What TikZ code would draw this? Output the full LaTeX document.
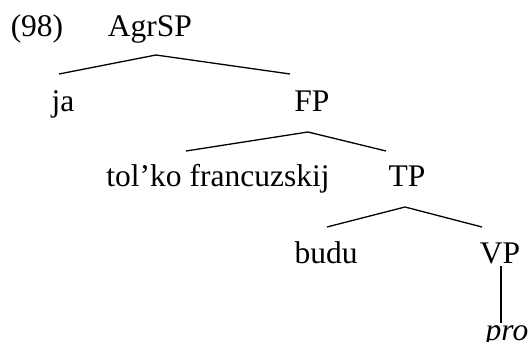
\documentclass[tikz,border=0pt]{standalone}
\usepackage{fontspec}
\setmainfont{Liberation Serif}
\begin{document}
\begin{tikzpicture}[x=1pt,y=-1pt,
  lab/.style={anchor=base,inner sep=0pt,outer sep=0pt,font=\fontsize{31.5}{36}\selectfont},
  edge/.style={line width=1.3pt}]
\useasboundingbox (0,0) rectangle (528,342);
\node[lab] (ex) at (37,37) {(98)};
\node[lab] (agr) at (150,37) {AgrSP};
\node[lab] (ja) at (63,112) {ja};
\node[lab] (fp) at (312,112) {FP};
\node[lab] (tol) at (218,187) {tol’ko francuzskij};
\node[lab] (tp) at (407,187) {TP};
\node[lab] (budu) at (326,263) {budu};
\node[lab] (vp) at (500,263) {VP};
\node[lab,font=\fontsize{31.5}{36}\selectfont\itshape] (pro) at (507,340) {pro};
% connector end points
\coordinate (a0) at (156,55);
\coordinate (a1) at (59,74);
\coordinate (a2) at (290,74);
\coordinate (f0) at (308,132);
\coordinate (f1) at (186,151);
\coordinate (f2) at (386,151);
\coordinate (t0) at (405,207);
\coordinate (t1) at (327,227);
\coordinate (t2) at (482,227);
\coordinate (v0) at (501,266);
\coordinate (v1) at (501,323);
\draw[edge] (a1) -- (a0) -- (a2);
\draw[edge] (f1) -- (f0) -- (f2);
\draw[edge] (t1) -- (t0) -- (t2);
\draw[edge] (v0) -- (v1);
\end{tikzpicture}
\end{document}
